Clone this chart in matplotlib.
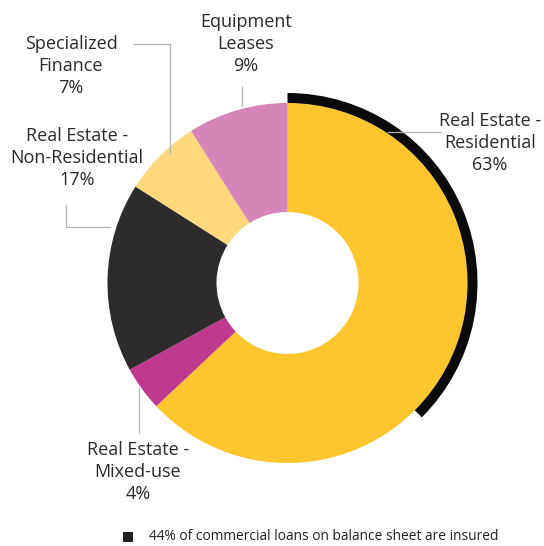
import matplotlib.pyplot as plt
from matplotlib.patches import Wedge, Rectangle

plt.rcParams['font.family'] = ['Open Sans', 'DejaVu Sans']

# --- Data ---
segments = ['Real Estate -\nResidential', 'Real Estate -\nMixed-use',
            'Real Estate -\nNon-Residential', 'Specialized\nFinance',
            'Equipment\nLeases']
shares = [63, 4, 17, 7, 9]
colors = ['#FDC62F', '#BF3A8E', '#2D2B2C', '#FDD87C', '#D585B7']
insured_arc = 37.5        # share of the ring covered by the black "insured" arc (as drawn)
legend_text = '44% of commercial loans on balance sheet are insured'

# --- Figure: one axes in pixel units (y up) ---
W, H = 544, 546
fig = plt.figure(figsize=(W / 100, H / 100), dpi=100)
ax = fig.add_axes([0, 0, 1, 1])

cx, cy = 287.5, H - 283
r_out, r_in = 180, 71

ax.pie(shares, colors=colors, startangle=90, counterclock=False,
       radius=r_out, center=(cx, cy),
       wedgeprops=dict(width=r_out - r_in, linewidth=0))

# insured arc, clockwise from 12 o'clock
ax.add_patch(Wedge((cx, cy), r_out + 10, 90 - 360 * insured_arc / 100, 90,
                   width=10, facecolor='#0a0a0a', linewidth=0))

ax.set_xlim(0, W)
ax.set_ylim(0, H)
ax.set_aspect('equal')
ax.axis('off')

txt = '#2a2a2a'
lc = '#b5b5b5'
fs = 13

def label(x, y, name, pct):
    ax.text(x, H - y, f'{name}\n{pct}%', ha='center', va='top',
            fontsize=fs, color=txt, linespacing=1.3)

def leader(xs, ys):
    ax.plot(xs, [H - v for v in ys], color=lc, lw=0.9)

# label positions (pixels, y down)
label(490, 112, segments[0], shares[0])
label(138, 441, segments[1], shares[1])
label(77, 127, segments[2], shares[2])
label(71, 35, segments[3], shares[3])
label(246, 13, segments[4], shares[4])

leader([388, 441], [132, 132])
leader([139, 139], [433, 388])
leader([66, 66, 110], [205, 227, 227])
leader([134, 170, 170], [44, 44, 153])
leader([242, 242], [87, 106])

# legend
ax.add_patch(Rectangle((123, H - 542), 10, 10, facecolor='#222222', linewidth=0))
ax.text(149, H - 537, legend_text, ha='left', va='center', fontsize=9.9, color='#222222')

fig.savefig('out.png', dpi=100, facecolor='white')
